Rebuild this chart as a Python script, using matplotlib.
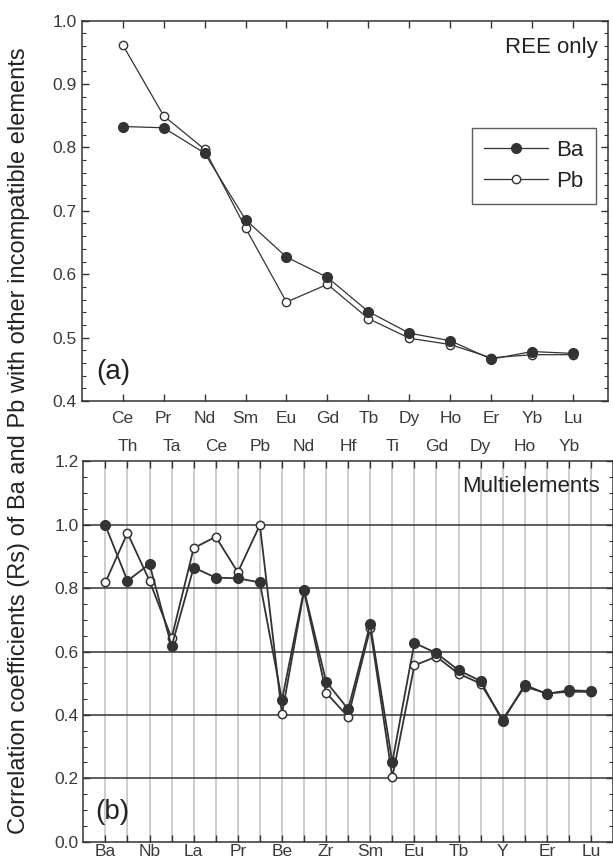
import numpy as np
import matplotlib.pyplot as plt
from matplotlib.ticker import MultipleLocator

plt.rcParams['font.family'] = ['Liberation Sans', 'DejaVu Sans']

# (a) REE only
ree = ['Ce', 'Pr', 'Nd', 'Sm', 'Eu', 'Gd', 'Tb', 'Dy', 'Ho', 'Er', 'Yb', 'Lu']
ree_ba = [0.833, 0.831, 0.791, 0.686, 0.627, 0.595, 0.541, 0.507, 0.495, 0.466, 0.478, 0.475]
ree_pb = [0.962, 0.850, 0.797, 0.673, 0.556, 0.584, 0.530, 0.499, 0.489, 0.468, 0.473, 0.473]

# (b) multielements
multi = ['Ba', 'Th', 'Nb', 'Ta', 'La', 'Ce', 'Pr', 'Pb', 'Be', 'Nd', 'Zr', 'Hf',
         'Sm', 'Ti', 'Eu', 'Gd', 'Tb', 'Dy', 'Y', 'Ho', 'Er', 'Yb', 'Lu']
multi_ba = [0.998, 0.823, 0.876, 0.616, 0.865, 0.833, 0.831, 0.818, 0.447, 0.795, 0.505, 0.418,
            0.686, 0.251, 0.627, 0.595, 0.541, 0.507, 0.380, 0.495, 0.466, 0.478, 0.475]
multi_pb = [0.818, 0.974, 0.823, 0.642, 0.926, 0.962, 0.850, 0.999, 0.403, 0.790, 0.470, 0.394,
            0.673, 0.203, 0.556, 0.584, 0.530, 0.499, 0.386, 0.489, 0.468, 0.473, 0.473]

dark = '#333333'
grey_txt = '#3a3a3a'

fig = plt.figure(figsize=(6.13, 8.61), dpi=100)
ax1 = fig.add_axes([0.1333, 0.5343, 0.8585, 0.4417])
ax2 = fig.add_axes([0.1359, 0.0224, 0.8641, 0.4418])

for ax in (ax1, ax2):
    for s in ax.spines.values():
        s.set_linewidth(1.1)
        s.set_color(dark)
    ax.tick_params(which='both', direction='in', top=True, right=True,
                   colors=dark, labelcolor=grey_txt, labelsize=12.5)
    ax.tick_params(which='major', length=5, width=1)
    ax.tick_params(which='minor', length=3, width=0.8)

# ---- panel (a)
x1 = np.arange(1, len(ree) + 1)
ax1.plot(x1, ree_pb, '-o', color=dark, lw=0.9, ms=6, mfc='white', mec=dark, mew=1, label='Pb')
ax1.plot(x1, ree_ba, '-o', color=dark, lw=0.9, ms=7, mfc=dark, mec=dark, label='Ba')
ax1.set_xlim(0, 12.85)
ax1.set_ylim(0.4, 1.0)
ax1.set_xticks(x1)
ax1.set_xticklabels(ree)
ax1.yaxis.set_major_locator(MultipleLocator(0.1))
ax1.yaxis.set_minor_locator(MultipleLocator(0.02))
ax1.tick_params(axis='x', pad=7)
ax1.text(0.981, 0.929, 'REE only', transform=ax1.transAxes, ha='right', va='center',
         fontsize=16, color='#222222')
ax1.text(0.027, 0.076, '(a)', transform=ax1.transAxes, ha='left', va='center',
         fontsize=20, color='#222222')
h, l = ax1.get_legend_handles_labels()
leg = ax1.legend(h[::-1], l[::-1], loc='upper right', bbox_to_anchor=(0.977, 0.718),
                 fontsize=16, frameon=True, fancybox=False, handlelength=2.9,
                 borderpad=0.55, labelspacing=0.45, handletextpad=0.35, borderaxespad=0)
leg.get_frame().set_edgecolor(dark)
leg.get_frame().set_linewidth(1.0)
for t in leg.get_texts():
    t.set_color('#222222')

# ---- panel (b)
x2 = np.arange(len(multi))
for xv in x2:
    ax2.axvline(xv, color='#c4c4cc', lw=1.2, zorder=0)
for yv in [0.2, 0.4, 0.6, 0.8, 1.0]:
    ax2.axhline(yv, color=dark, lw=1.1, zorder=0.5)
ax2.plot(x2, multi_pb, '-o', color=dark, lw=1.3, ms=6, mfc='white', mec=dark, mew=1.1)
ax2.plot(x2, multi_ba, '-o', color=dark, lw=1.3, ms=7, mfc=dark, mec=dark)
ax2.set_xlim(-1, 23)
ax2.set_ylim(0.0, 1.2)
ax2.set_xticks(x2)
ax2.set_xticklabels([m if i % 2 == 0 else '' for i, m in enumerate(multi)])
ax2.yaxis.set_major_locator(MultipleLocator(0.2))
ax2.yaxis.set_minor_locator(MultipleLocator(0.05))
ax2.tick_params(axis='x', pad=2)
sec = ax2.secondary_xaxis('top')
sec.set_xticks(x2[1::2])
sec.set_xticklabels(multi[1::2])
sec.tick_params(length=0, pad=5, labelsize=12.5, labelcolor=grey_txt)
sec.spines['top'].set_visible(False)
ax2.text(0.975, 0.933, 'Multielements', transform=ax2.transAxes, ha='right', va='center',
         fontsize=16, color='#222222')
ax2.text(0.022, 0.079, '(b)', transform=ax2.transAxes, ha='left', va='center',
         fontsize=20, color='#222222')

fig.text(0.031, 0.488, 'Correlation coefficients (Rs) of Ba and Pb with other incompatible elements',
         rotation=90, ha='center', va='center', fontsize=17, color='#222222')

fig.savefig('out.png', dpi=100)
